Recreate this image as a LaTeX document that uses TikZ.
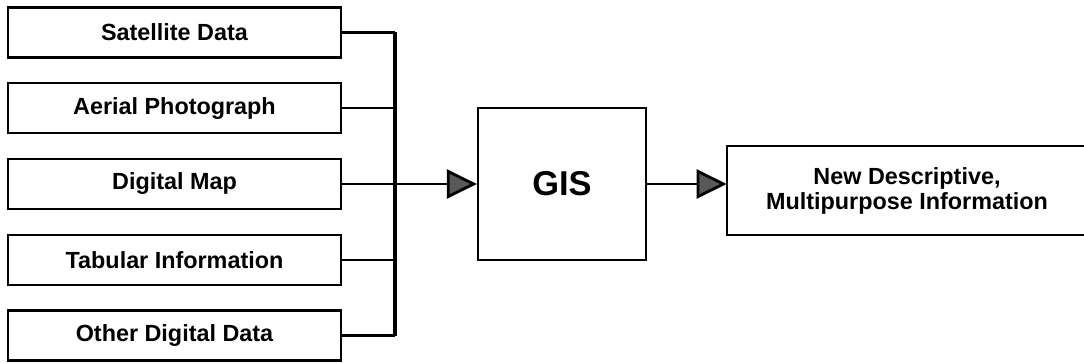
\documentclass[tikz,border=0pt]{standalone}
\usepackage{fontspec}
\setmainfont{Liberation Sans}
\usetikzlibrary{arrows.meta}

\begin{document}
\begin{tikzpicture}[
    srcbox/.style={draw, line width=1.3pt, minimum width=6.66cm, minimum height=1.0cm,
        font=\fontsize{13.3}{14.2}\selectfont\bfseries},
    gisbox/.style={draw, line width=1.3pt, minimum width=3.36cm, minimum height=3.04cm,
        font=\fontsize{19.6}{22}\selectfont\bfseries},
    outbox/.style={minimum width=7.2cm, minimum height=1.78cm,
        align=center, font=\fontsize{13.3}{14.2}\selectfont\bfseries},
    feed/.style={line width=1.3pt},
    bus/.style={line width=2.1pt},
    flow/.style={line width=1.6pt, -{Triangle[length=0.6cm, width=0.58cm, fill=black!65]}}
]
        \useasboundingbox (0,0) rectangle (21.68,7.24);
        \coordinate (rim) at (21.68,0);
        \node[srcbox] (sat)  at (3.49,6.59)  {Satellite Data};
        \node[srcbox] (aer)  at (3.49,5.075) {Aerial Photograph};
        \node[srcbox] (map)  at (3.49,3.56)  {Digital Map};
        \node[srcbox] (tab)  at (3.49,2.045) {Tabular Information};
        \node[srcbox] (oth)  at (3.49,0.53)  {Other Digital Data};
        \node[gisbox] (gis)  at (11.24,3.56) {GIS};
        \node[outbox] (info) at (18.14,3.43) {New Descriptive,\\Multipurpose Information};
        % box runs off the right edge
        \draw[line width=1.3pt] (info.north -| rim) -- (info.north west)
            -- (info.south west) -- (info.south -| rim);
        \coordinate (bustop) at (7.9,6.59);
        \coordinate (busbot) at (7.9,0.53);
        \draw[feed] (sat.east) -- (sat.east -| bustop);
        \draw[feed] (aer.east) -- (aer.east -| bustop);
        \draw[feed] (map.east) -- (map.east -| bustop);
        \draw[feed] (tab.east) -- (tab.east -| bustop);
        \draw[feed] (oth.east) -- (oth.east -| bustop);
        \draw[bus] (bustop) -- (busbot);
        \draw[flow] (gis.west -| bustop) -- (gis.west);
        \draw[flow] (gis.east) -- (gis.east -| info.west);
    \end{tikzpicture}
\end{document}
